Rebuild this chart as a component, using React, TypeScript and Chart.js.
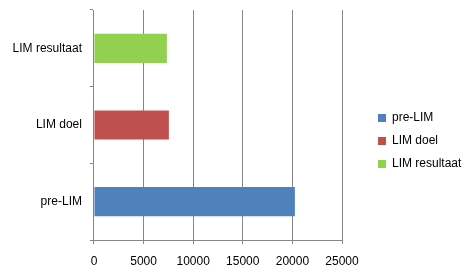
import React, { useEffect, useRef } from "react";
import { Chart, registerables } from "chart.js";

Chart.register(...registerables);

const categories = ["pre-LIM", "LIM doel", "LIM resultaat"];
const preLimValues = [20250, null, null];
const limDoelValues = [null, 7550, null];
const limResultaatValues = [null, null, 7350];
const xTicks = [0, 5000, 10000, 15000, 20000, 25000];

const GRID = "#868686";
const FONT = { family: "'Liberation Sans', Arial, sans-serif", size: 12 };

const legendPlacer = {
  id: "legendPlacer",
  beforeLayout(chart: any) {
    const lg = chart.legend;
    if (lg && !lg.__patched) {
      lg.__patched = true;
      const f = lg.fit;
      lg.fit = function () {
        f.call(this);
        this.width = 129;
      };
    }
  },
  afterLayout(chart: any) {
    const lg = chart.legend;
    if (lg) {
      const w = lg.right - lg.left;
      lg.left = 367;
      lg.right = 367 + w;
      lg.top = 10;
      lg.bottom = 272;
      lg.height = 262;
    }
  },
};

export default function App() {
  const ref = useRef<HTMLCanvasElement | null>(null);
  useEffect(() => {
    if (!ref.current) return;
    const chart = new Chart(ref.current, {
      type: "bar",
      data: {
        labels: categories,
        datasets: [
          { label: "pre-LIM", data: preLimValues as any, backgroundColor: "#4F81BD" },
          { label: "LIM doel", data: limDoelValues as any, backgroundColor: "#C0504D" },
          { label: "LIM resultaat", data: limResultaatValues as any, backgroundColor: "#92D050" },
        ],
      },
      options: {
        indexAxis: "y",
        animation: false,
        responsive: false,
        maintainAspectRatio: false,
        datasets: { bar: { barPercentage: 0.38, categoryPercentage: 1 } },
        layout: { padding: { top: 10, bottom: 0, left: 4.6, right: 0 } },
        scales: {
          x: {
            stacked: true,
            min: 0,
            max: 25000,
            afterBuildTicks: (scale: any) => {
              scale.ticks = xTicks.map((v) => ({ value: v }));
            },
            afterFit: (scale: any) => {
              scale.height = 35;
            },
            grid: { color: GRID, drawTicks: true, tickLength: 4, lineWidth: 1 },
            border: { display: true, color: GRID },
            ticks: {
              padding: 10.8,
              color: "#000",
              callback: (v: any) => String(v),
              font: FONT,
            },
          },
          y: {
            stacked: true,
            reverse: true,
            afterFit: (scale: any) => {
              scale.paddingTop = 0;
              scale.paddingBottom = 0;
            },
            grid: {
              offset: true,
              drawOnChartArea: false,
              drawTicks: true,
              tickLength: 4,
              color: GRID,
            },
            border: { display: true, color: GRID },
            ticks: {
              padding: 8,
              color: "#000",
              font: FONT,
            },
          },
        },
        plugins: {
          legend: {
            position: "right",
            labels: {
              boxWidth: 8,
              boxHeight: 8,
              padding: 11,
              color: "#000",
              font: FONT,
            },
          },
          tooltip: { enabled: false },
        },
      },
      plugins: [legendPlacer],
    });
    return () => chart.destroy();
  }, []);
  return (
    <div style={{ position: "fixed", left: 0, top: 0, width: 471, height: 275, background: "#fff" }}>
      <canvas ref={ref} width={471} height={275} style={{ display: "block" }} />
    </div>
  );
}
